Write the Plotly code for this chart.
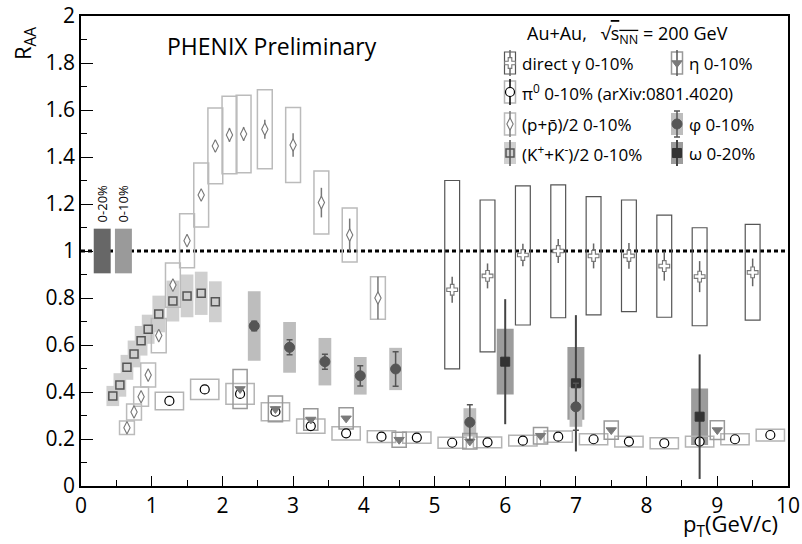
import plotly.graph_objects as go

# ---------------- data ----------------
# direct photon 0-10%
gam_x = [5.25, 5.75, 6.25, 6.75, 7.25, 7.75, 8.25, 8.75, 9.5]
gam_y = [0.835, 0.894, 0.983, 1.0, 0.979, 0.979, 0.936, 0.891, 0.909]
gam_stat = [0.055, 0.053, 0.048, 0.051, 0.053, 0.055, 0.062, 0.066, 0.059]
gam_box_top = [1.30, 1.217, 1.277, 1.281, 1.231, 1.217, 1.153, 1.099, 1.113]
gam_box_bot = [0.498, 0.571, 0.685, 0.716, 0.728, 0.742, 0.718, 0.682, 0.706]

# pi0 0-10%
pi_x = [1.25, 1.75, 2.25, 2.75, 3.25, 3.75, 4.25, 4.75, 5.25, 5.75, 6.25, 6.75, 7.25, 7.75, 8.25, 8.75, 9.25, 9.75]
pi_y = [0.362, 0.411, 0.392, 0.316, 0.255, 0.224, 0.21, 0.206, 0.184, 0.186, 0.193, 0.21, 0.199, 0.189, 0.182, 0.189, 0.199, 0.217]
pi_sys = [0.037, 0.043, 0.044, 0.038, 0.030, 0.028, 0.025, 0.024, 0.023, 0.023, 0.023, 0.024, 0.023, 0.023, 0.023, 0.023, 0.023, 0.025]

# (p+pbar)/2 0-10%
p_x = [0.65, 0.75, 0.85, 0.95, 1.1, 1.3, 1.5, 1.7, 1.9, 2.1, 2.3, 2.6, 3.0, 3.4, 3.8, 4.2]
p_y = [0.248, 0.315, 0.38, 0.472, 0.64, 0.855, 1.044, 1.238, 1.447, 1.494, 1.498, 1.518, 1.451, 1.206, 1.068, 0.80]
p_stat = [0.01, 0.01, 0.01, 0.012, 0.015, 0.015, 0.018, 0.02, 0.025, 0.03, 0.03, 0.04, 0.05, 0.063, 0.07, 0.09]
p_sys = [0.029, 0.034, 0.041, 0.051, 0.073, 0.094, 0.115, 0.136, 0.161, 0.165, 0.165, 0.168, 0.16, 0.134, 0.115, 0.09]

# (K+ + K-)/2 0-10%
k_x = [0.45, 0.55, 0.65, 0.75, 0.85, 0.95, 1.1, 1.3, 1.5, 1.7, 1.9]
k_y = [0.383, 0.43, 0.505, 0.562, 0.618, 0.667, 0.732, 0.787, 0.809, 0.82, 0.784]
k_sys = [0.043, 0.05, 0.053, 0.057, 0.063, 0.062, 0.078, 0.087, 0.091, 0.092, 0.087]

# eta 0-10%
eta_x = [2.25, 2.75, 3.25, 3.75, 4.5, 5.5, 6.5, 7.5, 9.0]
eta_y = [0.413, 0.328, 0.283, 0.288, 0.197, 0.19, 0.214, 0.238, 0.238]
eta_sys = [0.083, 0.055, 0.046, 0.045, 0.032, 0.033, 0.035, 0.039, 0.04]

# phi 0-10%
phi_x = [2.45, 2.95, 3.45, 3.95, 4.45, 5.5, 7.0]
phi_y = [0.681, 0.59, 0.529, 0.469, 0.498, 0.271, 0.337]
phi_stat = [0.02, 0.032, 0.032, 0.043, 0.073, 0.075, 0.10]
phi_sys = [0.148, 0.108, 0.101, 0.08, 0.09, 0.06, 0.085]

# omega 0-20%
om_x = [6.0, 7.0, 8.75]
om_y = [0.529, 0.437, 0.295]
om_stat = [0.266, 0.29, 0.265]
om_sys = [0.14, 0.155, 0.12]

# normalisation uncertainties at R_AA = 1
norm_x = [0.3, 0.6]
norm_err = [0.095, 0.095]
norm_labels = ["0-20%", "0-10%"]

x_ticks = list(range(0, 11))
y_ticks = [0, 0.2, 0.4, 0.6, 0.8, 1.0, 1.2, 1.4, 1.6, 1.8, 2.0]

# ---------------- styling ----------------
FONT = "Open Sans"
W, H = 802, 544
ML, MR, MT, MB = 81, 14, 16, 58
PW, PH = W - ML - MR, H - MT - MB


def paper_x(px):
    return (px - ML) / PW


def paper_y(py):
    return (H - MB - py) / PH


fig = go.Figure()
shapes = []
anns = []

NONE = "rgba(0,0,0,0)"


def add_boxes(xs, lows, highs, hw, fill=NONE, line=NONE, lw=0, xref="x", yref="y"):
    for x, lo, hi in zip(xs, lows, highs):
        shapes.append(dict(type="rect", xref=xref, yref=yref, x0=x - hw, x1=x + hw,
                           y0=lo, y1=hi, fillcolor=fill,
                           line=dict(color=line, width=lw), layer="below"))


def sym_boxes(xs, ys, sys, hw, **kw):
    add_boxes(xs, [y - s for y, s in zip(ys, sys)], [y + s for y, s in zip(ys, sys)], hw, **kw)


def pts(xs, ys, err=None, sym="circle", size=9, fill="white", lc="black", lw=1.2,
        ecol="#777", eth=1.5, ew=0, xa="x", ya="y"):
    fig.add_trace(go.Scatter(
        x=xs, y=ys, mode="markers", xaxis=xa, yaxis=ya,
        marker=dict(symbol=sym, size=size, color=fill, line=dict(color=lc, width=lw)),
        error_y=dict(type="data", array=err if err is not None else [0] * len(xs),
                     visible=err is not None, color=ecol, thickness=eth, width=ew),
        showlegend=False, hoverinfo="skip", cliponaxis=False))


STY = {
    "k":   dict(box=dict(fill="#cfcfcf"), mk=dict(sym="square-open", size=8, fill="#555", lc="#555", lw=1.5)),
    "om":  dict(box=dict(fill="#9c9c9c"), mk=dict(sym="square", size=9, fill="#333", lc="#333", lw=1), ecol="#444", eth=2, ew=0),
    "phi": dict(box=dict(fill="#bdbdbd"), mk=dict(sym="circle", size=10, fill="#555", lc="#555", lw=1), ecol="#555", eth=1.5, ew=3),
    "pi":  dict(box=dict(line="#b4b4b4", lw=1.5), mk=dict(sym="circle", size=9, fill="white", lc="black", lw=1.2), ecol="black"),
    "p":   dict(box=dict(line="#bbbbbb", lw=1.5), mk=dict(sym="diamond-tall", size=9, fill="white", lc="#777", lw=1.1), ecol="#777", eth=1.5, ew=0),
    "eta": dict(box=dict(line="#999999", lw=1.5), mk=dict(sym="triangle-down", size=9, fill="#7a7a7a", lc="#7a7a7a", lw=1)),
    "gam": dict(box=dict(line="#555555", lw=1.2), mk=dict(sym="cross", size=9, fill="white", lc="#777", lw=1.1), ecol="#666", eth=1.5, ew=0),
}

# dotted line at R_AA = 1
shapes.append(dict(type="line", xref="x", yref="y", x0=0, x1=10, y0=1, y1=1,
                   line=dict(color="black", width=3, dash="4px,3px"), layer="below"))
# normalisation boxes
for x, e, c in zip(norm_x, norm_err, ["#676767", "#9a9a9a"]):
    shapes.append(dict(type="rect", xref="x", yref="y", x0=x - 0.12, x1=x + 0.12, y0=1 - e, y1=1 + e,
                       fillcolor=c, line=dict(width=0), layer="below"))
for x, e, t in zip(norm_x, norm_err, norm_labels):
    anns.append(dict(xref="x", yref="y", x=x, y=1 + e, text=t, showarrow=False, textangle=-90,
                     yanchor="bottom", xanchor="center", yshift=4, font=dict(size=13, family=FONT, color="black")))

# systematic boxes
sym_boxes(k_x, k_y, k_sys, 0.09, **STY["k"]["box"])
sym_boxes(om_x, om_y, om_sys, 0.12, **STY["om"]["box"])
sym_boxes(phi_x, phi_y, phi_sys, 0.09, **STY["phi"]["box"])
sym_boxes(pi_x, pi_y, pi_sys, 0.2, **STY["pi"]["box"])
sym_boxes(p_x, p_y, p_sys, 0.105, **STY["p"]["box"])
sym_boxes(eta_x, eta_y, eta_sys, 0.1, **STY["eta"]["box"])
add_boxes(gam_x, gam_box_bot, gam_box_top, 0.105, **STY["gam"]["box"])

# points
pts(p_x, p_y, p_stat, ecol=STY["p"]["ecol"], eth=1.5, ew=0, **STY["p"]["mk"])
pts(k_x, k_y, None, **STY["k"]["mk"])
pts(pi_x, pi_y, None, **STY["pi"]["mk"])
pts(eta_x, eta_y, None, **STY["eta"]["mk"])
pts(om_x, om_y, om_stat, ecol="#444", eth=2, ew=0, **STY["om"]["mk"])
pts(phi_x, phi_y, phi_stat, ecol="#555", eth=1.5, ew=3, **STY["phi"]["mk"])
pts(gam_x, gam_y, gam_stat, ecol="#666", eth=1.5, ew=0, **STY["gam"]["mk"])

# ---------------- legend (pixel overlay axis) ----------------
LX = [510, 677]
LY = [63, 92, 124, 153]
legend_items = [
    ("gam", 0, 0, "direct \u03b3 0-10%"),
    ("eta", 1, 0, "\u03b7 0-10%"),
    ("pi", 0, 1, "\u03c0<sup>0</sup> 0-10% (arXiv:0801.4020)"),
    ("p", 0, 2, "(p+p\u0304)/2 0-10%"),
    ("phi", 1, 2, "\u03c6 0-10%"),
    ("k", 0, 3, "(K<sup>+</sup>+K<sup>-</sup>)/2 0-10%"),
    ("om", 1, 3, "\u03c9 0-20%"),
]
for key, c, r, label in legend_items:
    st = STY[key]
    cx, cy = LX[c], LY[r]
    bw = 5.5 if key in ("gam", "eta", "pi", "p") else 6
    add_boxes([cx], [cy - 11], [cy + 11], bw, xref="x2", yref="y2", **st["box"])
    pts([cx], [cy], [13], ecol=st.get("ecol", "#555"), eth=st.get("eth", 1.5), ew=st.get("ew", 0),
        xa="x2", ya="y2", **st["mk"])
    anns.append(dict(xref="x2", yref="y2", x=LX[c] + 10, y=cy, text=label, showarrow=False,
                     xanchor="left", yanchor="middle", font=dict(size=17, family=FONT, color="black")))

anns.append(dict(xref="x2", yref="y2", x=627, y=34, showarrow=False, xanchor="center", yanchor="middle",
                 text="Au+Au,\u00a0\u00a0\u00a0\u221a<span style=\"text-decoration:overline\">s<sub>NN</sub></span> = 200 GeV",
                 font=dict(size=18, family=FONT, color="black")))
anns.append(dict(xref="x2", yref="y2", x=165, y=46, showarrow=False, xanchor="left", yanchor="middle",
                 text="PHENIX Preliminary", font=dict(size=23, family=FONT, color="black")))
anns.append(dict(xref="paper", yref="paper", x=paper_x(24), y=paper_y(44), showarrow=False,
                 xanchor="center", yanchor="middle",
                 text="R<sub>AA</sub>", textangle=-90, font=dict(size=22, family=FONT, color="black")))
anns.append(dict(xref="paper", yref="paper", x=paper_x(780), y=paper_y(525), showarrow=False,
                 xanchor="right", yanchor="middle",
                 text="p<sub>T</sub>(GeV/c)", font=dict(size=22, family=FONT, color="black")))

axis_common = dict(showgrid=False, zeroline=False, showline=True, linecolor="black", linewidth=1.5,
                   mirror=True, ticks="inside", tickcolor="black", tickwidth=1.3, automargin=False,
                   tickfont=dict(size=21, family=FONT, color="black"))

fig.update_layout(
    width=W, height=H,
    margin=dict(l=ML, r=MR, t=MT, b=MB, autoexpand=False),
    paper_bgcolor="white", plot_bgcolor="white",
    xaxis=dict(range=[0, 10], tickvals=x_ticks, ticklen=10,
               minor=dict(ticks="inside", dtick=0.5, ticklen=6, tickcolor="black", tickwidth=1.2),
               **axis_common),
    yaxis=dict(range=[0, 2], tickvals=y_ticks, ticktext=[f"{v:g}" for v in y_ticks], ticklen=12,
               minor=dict(ticks="inside", dtick=0.1, ticklen=6, tickcolor="black", tickwidth=1.2),
               **axis_common),
    xaxis2=dict(overlaying="x", range=[ML, W - MR], visible=False, fixedrange=True, automargin=False),
    yaxis2=dict(overlaying="y", range=[H - MB, MT], visible=False, fixedrange=True, automargin=False),
    shapes=shapes, annotations=anns,
    font=dict(family=FONT, color="black"),
    showlegend=False,
)

fig.write_html("out.html")
